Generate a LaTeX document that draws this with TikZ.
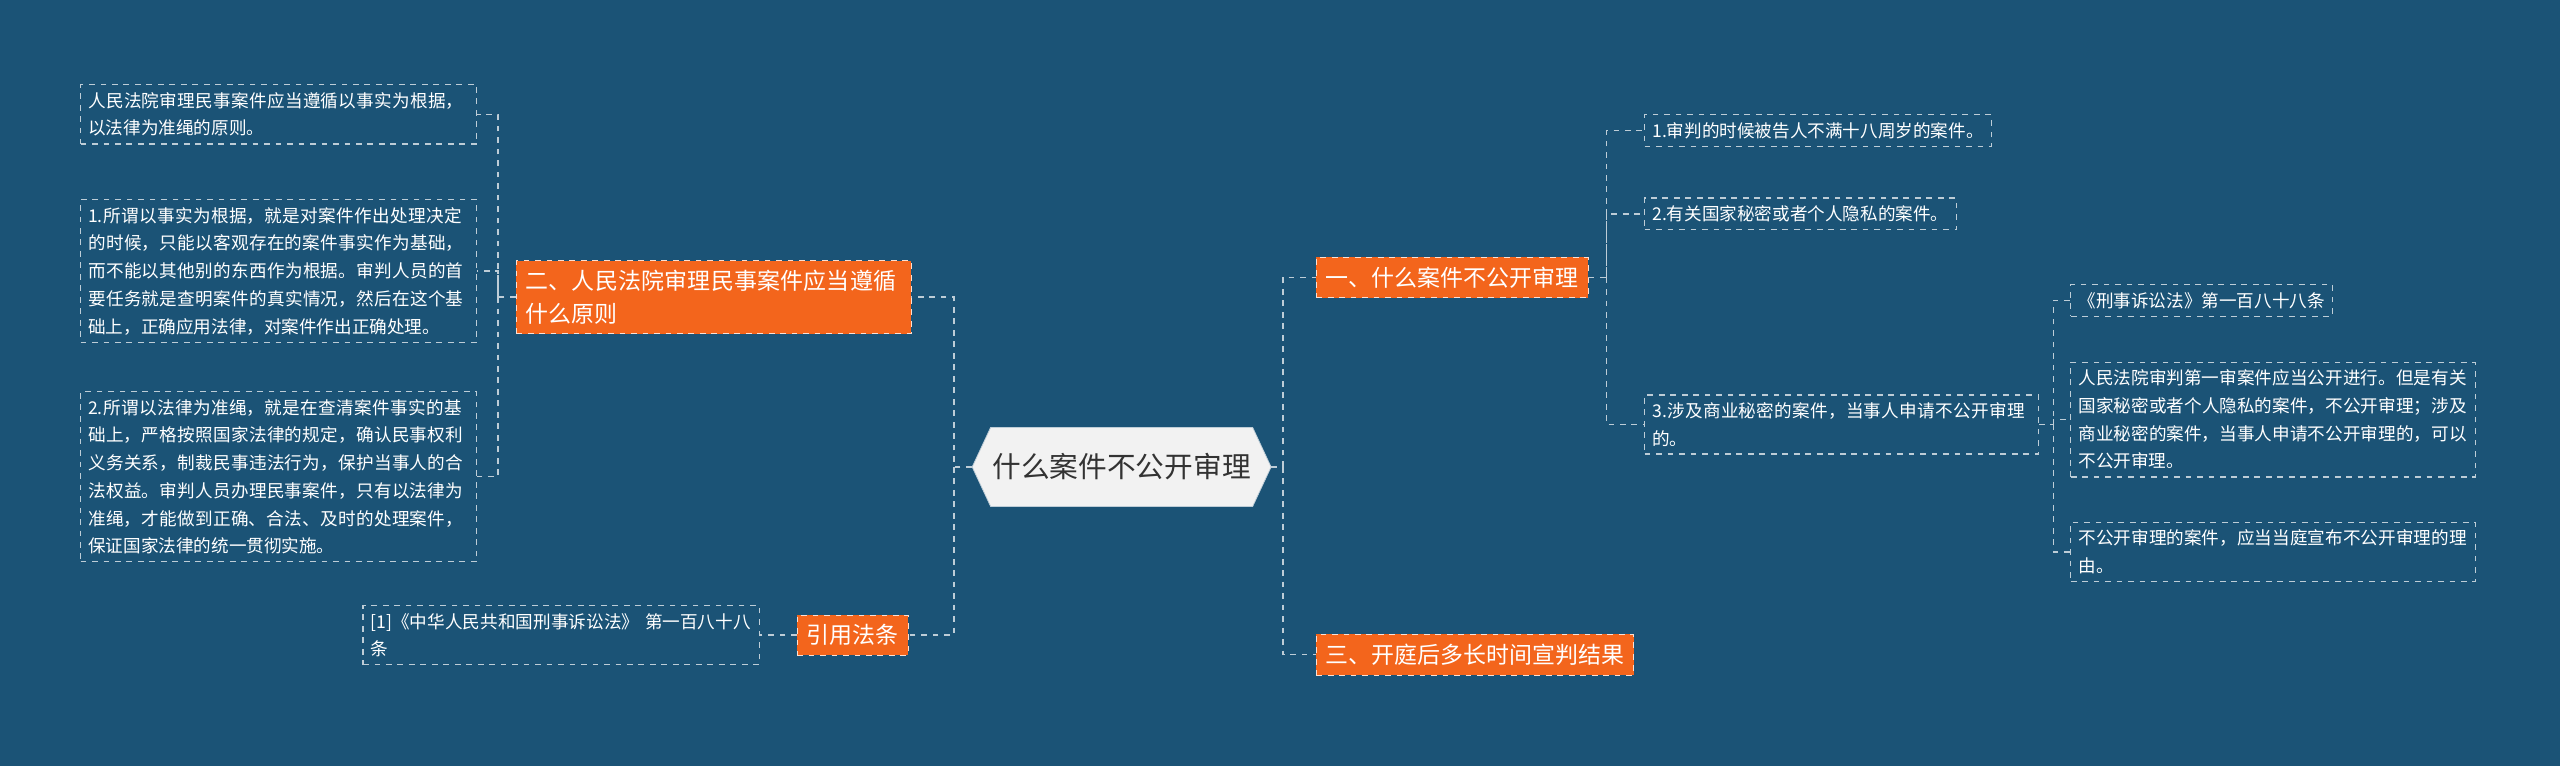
\documentclass[tikz,border=0pt]{standalone}
\usepackage{fontspec}
\setmainfont{Noto Sans CJK SC}
\XeTeXlinebreaklocale "zh"
\XeTeXlinebreakskip=0pt plus 1pt
\usetikzlibrary{positioning,shapes.symbols}
\definecolor{bgblue}{RGB}{27,83,118}
\definecolor{branchorange}{RGB}{243,101,28}
\definecolor{centerfill}{RGB}{242,242,242}
\definecolor{dashgray}{RGB}{190,205,215}
\begin{document}
\begin{tikzpicture}[x=0.03cm,y=-0.03cm,
    link/.style={draw=dashgray, dashed, line width=0.7pt},
    leaf/.style={draw=dashgray, dashed, line width=0.6pt, text=white, font=\fontsize{9.2}{14.5}\selectfont, align=left, anchor=west, inner sep=4pt},
    branch/.style={fill=branchorange, draw=white!80!branchorange, dashed, text=white, font=\fontsize{12}{17}\selectfont, align=left, anchor=west, inner sep=5pt},
    hub/.style={signal, signal to=west and east, signal pointer angle=130, fill=centerfill, draw=dashgray, text=black!80, font=\fontsize{15}{18}\selectfont, minimum height=1.45cm, inner xsep=1pt}]
    \fill[bgblue] (0,0) rectangle (1568,469);
    \useasboundingbox (0,0) rectangle (1568,469);

    \node (hub) [hub] at (687,286) {什么案件不公开审理};

    % left side
    \node (principle) [branch, text width=6.9cm] at (316,182) {二、人民法院审理民事案件应当遵循什么原则};
    \node (basis) [leaf, text width=7.0cm] at (49,70) {人民法院审理民事案件应当遵循以事实为根据，以法律为准绳的原则。};
    \node (facts) [leaf, text width=7.0cm] at (49,166) {1.所谓以事实为根据，就是对案件作出处理决定的时候，只能以客观存在的案件事实作为基础，而不能以其他别的东西作为根据。审判人员的首要任务就是查明案件的真实情况，然后在这个基础上，正确应用法律，对案件作出正确处理。};
    \node (law) [leaf, text width=7.0cm] at (49,292) {2.所谓以法律为准绳，就是在查清案件事实的基础上，严格按照国家法律的规定，确认民事权利义务关系，制裁民事违法行为，保护当事人的合法权益。审判人员办理民事案件，只有以法律为准绳，才能做到正确、合法、及时的处理案件，保证国家法律的统一贯彻实施。};
    \node (cite) [branch] at (488,389) {引用法条};
    \node (code) [leaf, text width=7.0cm] at (222,389) {[1]《中华人民共和国刑事诉讼法》 第一百八十八条};

    % right side
    \node (closed) [branch] at (806,170) {一、什么案件不公开审理};
    \node (minor) [leaf] at (1007,80) {1.审判的时候被告人不满十八周岁的案件。};
    \node (secret) [leaf] at (1007,131) {2.有关国家秘密或者个人隐私的案件。};
    \node (trade) [leaf, text width=6.95cm] at (1007,260) {3.涉及商业秘密的案件，当事人申请不公开审理的。};
    \node (article) [leaf] at (1268,184) {《刑事诉讼法》第一百八十八条};
    \node (rule) [leaf, text width=7.15cm] at (1268,257) {人民法院审判第一审案件应当公开进行。但是有关国家秘密或者个人隐私的案件，不公开审理；涉及商业秘密的案件，当事人申请不公开审理的，可以不公开审理。};
    \node (announce) [leaf, text width=7.15cm] at (1268,338) {不公开审理的案件，应当当庭宣布不公开审理的理由。};
    \node (verdict) [branch] at (806,401) {三、开庭后多长时间宣判结果};

    % connectors
    \draw[link] (hub.west) -- ++(-11,0) coordinate (hl) |- (principle.east);
    \draw[link] (hl) |- (cite.east);
    \draw[link] (hub.east) -- ++(7,0) coordinate (hr) |- (closed.west);
    \draw[link] (hr) |- (verdict.west);
    \draw[link] (principle.west) -- ++(-11,0) coordinate (pl) |- (basis.east);
    \draw[link] (pl) |- (facts.east);
    \draw[link] (pl) |- (law.east);
    \draw[link] (cite.west) -- (code.east);
    \draw[link] (closed.east) -- ++(11,0) coordinate (cr) |- (minor.west);
    \draw[link] (cr) |- (secret.west);
    \draw[link] (cr) |- (trade.west);
    \draw[link] (trade.east) -- ++(9,0) coordinate (tr) |- (article.west);
    \draw[link] (tr) |- (rule.west);
    \draw[link] (tr) |- (announce.west);
\end{tikzpicture}
\end{document}
